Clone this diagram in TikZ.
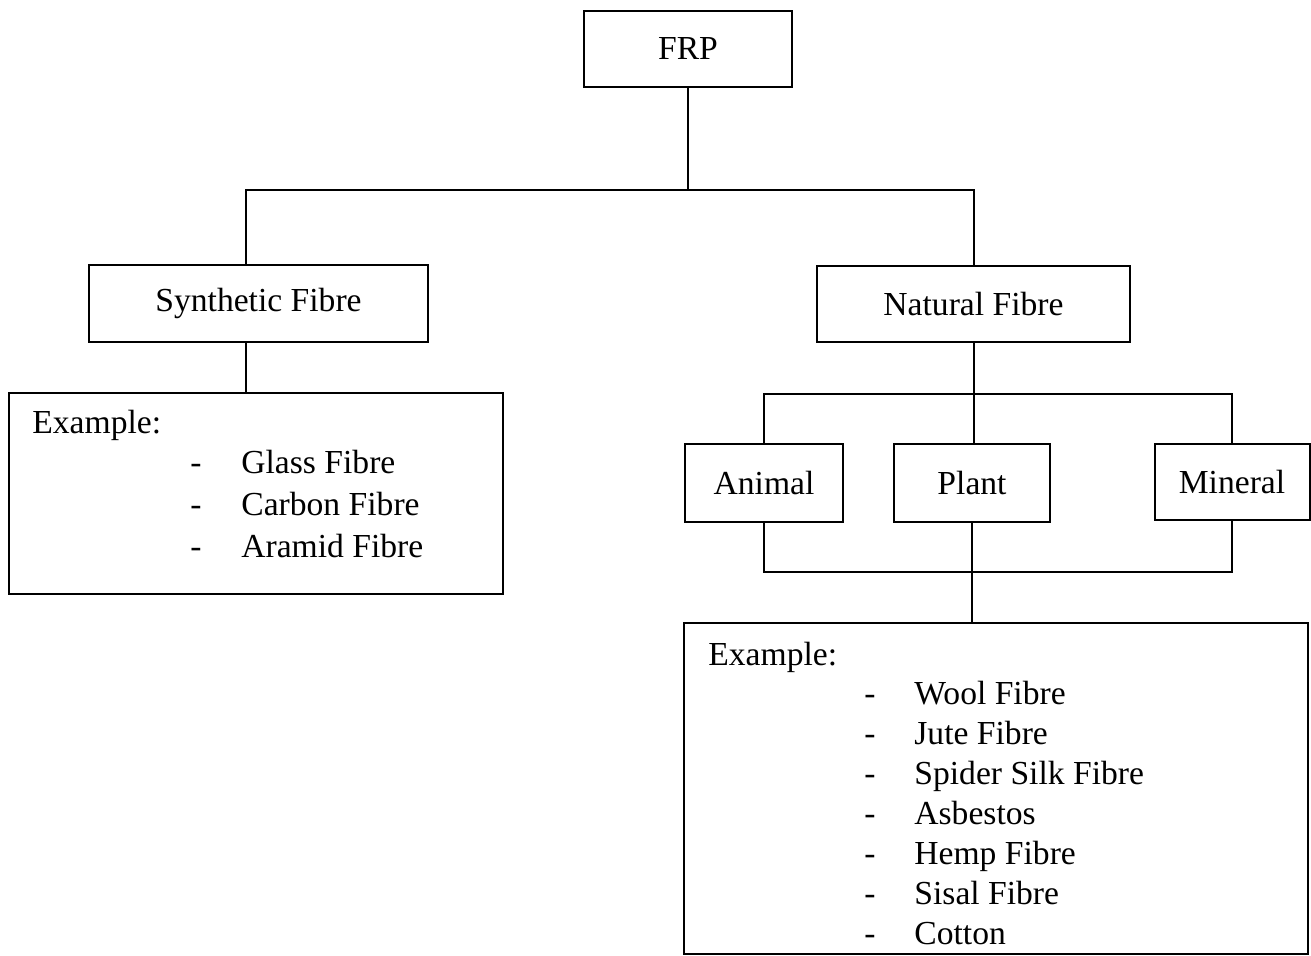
\documentclass[tikz,border=0pt]{standalone}
\usepackage{fontspec}
\setmainfont{Liberation Serif}
\usetikzlibrary{positioning}
\newcommand{\fibrefont}{\fontsize{16.8}{20}\selectfont}
\tikzset{
  box/.style={rectangle, draw, line width=1pt, inner sep=0pt, align=center,
              font=\fibrefont},
  listbox/.style={box},
  link/.style={line width=1pt},
  listhead/.style={anchor=base west, inner sep=0pt, font=\fibrefont},
  listitem/.style={anchor=base west, inner sep=0pt, font=\fibrefont},
}

\begin{document}
\begin{tikzpicture}[x=0.5pt, y=-0.5pt]
  \useasboundingbox (0,0) rectangle (1311,956);
  % top level
  \node[box, minimum width=104pt, minimum height=38pt] (frp) at (688,49) {FRP};
  \node[box, minimum width=169.5pt, minimum height=38.5pt] (syn) at (258.5,303.5) {Synthetic Fibre};
  \node[box, minimum width=156.5pt, minimum height=38pt] (nat) at (973.5,304) {Natural Fibre};
  \coordinate (bus) at (688,190);
  \coordinate (synx) at ([xshift=-6.25pt]syn.south);
  \draw[link] (frp.south) -- (bus);
  \draw[link] ([xshift=-6.25pt]syn.north) |- (bus) -| (nat.north);
  % synthetic examples
  \node[listbox, minimum width=247pt, minimum height=100.5pt] (synex) at (256,493.5) {};
  \draw[link] (synx) -- (synx |- synex.north);
  \node[listhead] (synhead) at (32,434) {Example:};
  \foreach \txt [count=\i] in {Glass Fibre, Carbon Fibre, Aramid Fibre}
    \node[listitem] (syn-\i) at (190,432+42*\i) {\makebox[25.5pt][l]{-}\txt};
  % natural sources
  \node[box, minimum width=79pt, minimum height=39pt] (animal) at (764,483) {Animal};
  \node[box, minimum width=78pt, minimum height=39pt] (plant) at (972,483) {Plant};
  \node[box, minimum width=77.5pt, minimum height=38pt] (mineral) at (1232,482.5) {Mineral};
  \coordinate (ntop) at (973,394);
  \coordinate (nbot) at (973,572);
  \draw[link] (nat.south) -- (nat.south |- plant.north);
  \draw[link] (animal.north) |- (ntop) -| (mineral.north);
  \draw[link] (animal.south) |- (nbot) -| (mineral.south);
  % natural examples
  \node[listbox, minimum width=312pt, minimum height=165.5pt] (natex) at (996,788.5) {};
  \draw[link] (plant.south) -- (plant.south |- natex.north);
  \node[listhead] (nathead) at (708,665) {Example:};
  \foreach \txt [count=\i] in {Wool Fibre, Jute Fibre, Spider Silk Fibre, Asbestos,
                                Hemp Fibre, Sisal Fibre, Cotton}
    \node[listitem] (nat-\i) at (864,664+40*\i) {\makebox[25pt][l]{-}\txt};
\end{tikzpicture}
\end{document}
